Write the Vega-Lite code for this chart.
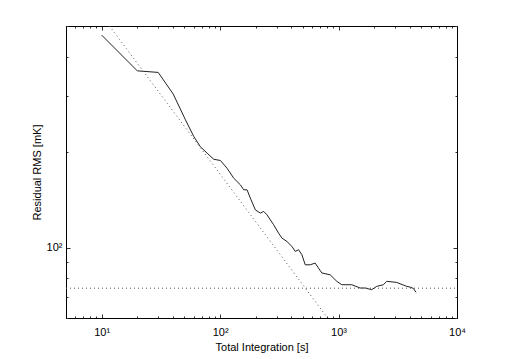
{
  "$schema": "https://vega.github.io/schema/vega-lite/v6.json",
  "width": 391,
  "height": 292,
  "autosize": {"type": "none"},
  "padding": {"left": 66, "top": 26, "right": 49, "bottom": 41},
  "background": "white",
  "config": {
    "view": {"stroke": "black", "strokeWidth": 1},
    "axis": {
      "grid": false,
      "domainColor": "black",
      "tickColor": "#333333",
      "labelFont": "Liberation Sans",
      "titleFont": "Liberation Sans",
      "labelFontSize": 11,
      "titleFontSize": 11,
      "titleFontWeight": "normal",
      "labelColor": "black",
      "titleColor": "black",
      "labelOverlap": false,
      "labelFlush": false
    }
  },
  "datasets": {
    "curve": [
      {"t": 10, "rms": 468},
      {"t": 20, "rms": 361},
      {"t": 30, "rms": 357},
      {"t": 40.2, "rms": 305},
      {"t": 51, "rms": 253},
      {"t": 60, "rms": 224},
      {"t": 68.2, "rms": 208},
      {"t": 77.7, "rms": 198.6},
      {"t": 88.4, "rms": 190},
      {"t": 100.6, "rms": 188.3},
      {"t": 114.5, "rms": 178},
      {"t": 130.3, "rms": 165.6},
      {"t": 148.3, "rms": 157.8},
      {"t": 158.2, "rms": 152.2},
      {"t": 168.8, "rms": 152.2},
      {"t": 180, "rms": 143.3},
      {"t": 198.4, "rms": 131.6},
      {"t": 218.6, "rms": 128.5},
      {"t": 233.2, "rms": 130.1},
      {"t": 248.7, "rms": 126.9},
      {"t": 283, "rms": 118.1},
      {"t": 311.8, "rms": 111.1},
      {"t": 332.7, "rms": 107.2},
      {"t": 366.6, "rms": 104.6},
      {"t": 404, "rms": 100.9},
      {"t": 430.9, "rms": 97.3},
      {"t": 459.6, "rms": 98.5},
      {"t": 490.4, "rms": 95.0},
      {"t": 523, "rms": 88.3},
      {"t": 576.3, "rms": 88.3},
      {"t": 635.1, "rms": 89.4},
      {"t": 677.6, "rms": 86.2},
      {"t": 722.8, "rms": 83.2},
      {"t": 849.9, "rms": 82.1},
      {"t": 967, "rms": 78.3},
      {"t": 1065, "rms": 76.4},
      {"t": 1293, "rms": 76.4},
      {"t": 1521, "rms": 74.6},
      {"t": 1675, "rms": 74.6},
      {"t": 1907, "rms": 73.7},
      {"t": 2101, "rms": 75.5},
      {"t": 2391, "rms": 76.4},
      {"t": 2551, "rms": 78.3},
      {"t": 3097, "rms": 77.7},
      {"t": 3760, "rms": 75.5},
      {"t": 4011, "rms": 75.1},
      {"t": 4279, "rms": 74.4},
      {"t": 4506, "rms": 72.3}
    ],
    "diag": [
      {"t": 11.64, "rms": 500},
      {"t": 808, "rms": 60}
    ],
    "flat": [
      {"t": 5, "rms": 74.5},
      {"t": 10000, "rms": 74.5}
    ]
  },
  "resolve": {"axis": {"x": "independent", "y": "independent"}},
  "layer": [
    {
      "data": {"name": "curve"},
      "mark": {"type": "line", "color": "#222222", "strokeWidth": 1, "clip": true},
      "encoding": {
        "x": {
          "field": "t", "type": "quantitative",
          "scale": {"type": "log", "domain": [5, 10000], "nice": false},
          "axis": {
            "orient": "bottom",
            "title": "Total Integration [s]",
            "titlePadding": 2,
            "values": [6,7,8,9,10,20,30,40,50,60,70,80,90,100,200,300,400,500,600,700,800,900,1000,2000,3000,4000,5000,6000,7000,8000,9000,10000],
            "labelExpr": "datum.value == 10 ? '10¹' : datum.value == 100 ? '10²' : datum.value == 1000 ? '10³' : datum.value == 10000 ? '10⁴' : ''",
            "tickSize": {"condition": {"test": "datum.value == 10 || datum.value == 100 || datum.value == 1000 || datum.value == 10000", "value": -4}, "value": -2},
            "labelPadding": 12
          }
        },
        "y": {
          "field": "rms", "type": "quantitative",
          "scale": {"type": "log", "domain": [60, 500], "nice": false},
          "axis": {
            "orient": "left",
            "title": "Residual RMS [mK]",
            "titlePadding": 4,
            "values": [60,70,80,90,100,200,300,400,500],
            "labelExpr": "datum.value == 100 ? '10²' : ''",
            "tickSize": {"condition": {"test": "datum.value == 100", "value": -4}, "value": -2},
            "labelPadding": 8
          }
        }
      }
    },
    {
      "data": {"name": "diag"},
      "mark": {"type": "line", "color": "#555555", "strokeWidth": 1, "strokeDash": [1, 3], "clip": true},
      "encoding": {
        "x": {
          "field": "t", "type": "quantitative",
          "scale": {"type": "log", "domain": [5, 10000], "nice": false},
          "axis": {
            "orient": "top", "title": null, "domain": true,
            "values": [6,7,8,9,10,20,30,40,50,60,70,80,90,100,200,300,400,500,600,700,800,900,1000,2000,3000,4000,5000,6000,7000,8000,9000,10000],
            "labels": false,
            "tickSize": {"condition": {"test": "datum.value == 10 || datum.value == 100 || datum.value == 1000 || datum.value == 10000", "value": -4}, "value": -2}
          }
        },
        "y": {
          "field": "rms", "type": "quantitative",
          "scale": {"type": "log", "domain": [60, 500], "nice": false},
          "axis": {
            "orient": "right", "title": null, "domain": true,
            "values": [60,70,80,90,100,200,300,400,500],
            "labels": false,
            "tickSize": {"condition": {"test": "datum.value == 100", "value": -4}, "value": -2}
          }
        }
      }
    },
    {
      "data": {"name": "flat"},
      "mark": {"type": "line", "color": "#555555", "strokeWidth": 1, "strokeDash": [1, 3], "clip": true},
      "encoding": {
        "x": {"field": "t", "type": "quantitative", "scale": {"type": "log", "domain": [5, 10000], "nice": false}, "axis": null},
        "y": {"field": "rms", "type": "quantitative", "scale": {"type": "log", "domain": [60, 500], "nice": false}, "axis": null}
      }
    }
  ]
}
